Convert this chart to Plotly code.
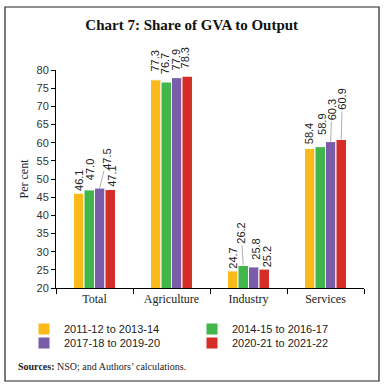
import plotly.graph_objects as go

categories = ["Total", "Agriculture", "Industry", "Services"]
series_names = ["2011-12 to 2013-14", "2014-15 to 2016-17", "2017-18 to 2019-20", "2020-21 to 2021-22"]
s1 = [46.1, 77.3, 24.7, 58.4]
s2 = [47.0, 76.7, 26.2, 58.9]
s3 = [47.5, 77.9, 25.8, 60.3]
s4 = [47.1, 78.3, 25.2, 60.9]
series_values = [s1, s2, s3, s4]
y_ticks = list(range(20, 85, 5))

colors = ["#FBB91A", "#41B64B", "#7A5DA8", "#D42E27"]
# label offsets in pixels (dx, dy, leader line) -- style only
label_style = [
    [(0, -13, False), (-1, -19, False), (0, -13, False), (0, -15, False)],
    [(1, -20, False), (-1, -18, False), (-2, -32, True), (1, -22, False)],
    [(7, -29, True), (-1, -18, False), (2, -18, False), (1, -32, True)],
    [(1, -13, False), (-2, -18, False), (3, -12, False), (1, -40, True)],
]

W, H = 385, 389
L, R, T, B = 56, 21, 70, 101
pw, ph = W - L - R, H - T - B
bargap = 0.455

def px_x(p):
    return (p - L) / pw

def px_y(p):
    return (H - B - p) / ph

fig = go.Figure()
for j, (name, vals) in enumerate(zip(series_names, series_values)):
    fig.add_trace(go.Bar(
        x=categories, y=vals, name=name,
        marker=dict(color=colors[j], line=dict(color="white", width=1)),
        legend="legend" if j < 2 else "legend2",
    ))

w = (1 - bargap) / 4
annotations = []
for j, vals in enumerate(series_values):
    for i, v in enumerate(vals):
        dx, dy, line = label_style[j][i]
        xpos = i + (j - 1.5) * w
        common = dict(x=xpos, y=v, xref="x", yref="y", text=f"{v:.1f}", textangle=-90,
                      font=dict(family="Liberation Sans", size=11, color="#222"))
        if line:
            annotations.append(dict(**common, showarrow=True, ax=dx, ay=dy, arrowhead=0,
                                    arrowwidth=0.8, arrowcolor="#999", standoff=0))
        else:
            annotations.append(dict(**common, showarrow=False, xshift=dx, yshift=-dy,
                                    xanchor="center", yanchor="middle"))

annotations.append(dict(
    x=px_x(16), y=px_y(366), xref="paper", yref="paper", xanchor="left", yanchor="middle",
    text="<b>Sources:</b> NSO; and Authors’ calculations.", showarrow=False,
    font=dict(family="Liberation Serif", size=10, color="#222"),
))

legend_common = dict(orientation="h", xanchor="left", yanchor="middle",
                     entrywidth=123, entrywidthmode="pixels",
                     font=dict(family="Liberation Sans", size=11, color="#222"),
                     bgcolor="rgba(0,0,0,0)", itemclick=False, itemdoubleclick=False)

fig.update_layout(
    width=W, height=H,
    margin=dict(l=L, r=R, t=T, b=B, autoexpand=False),
    paper_bgcolor="white", plot_bgcolor="white",
    barmode="group", bargap=bargap, bargroupgap=0,
    title=dict(text="<b>Chart 7: Share of GVA to Output</b>", x=0.498, xref="container", xanchor="center",
               y=1 - 25 / H, yref="container", yanchor="middle",
               font=dict(family="Liberation Serif", size=15, color="#111")),
    xaxis=dict(showline=True, linecolor="black", linewidth=1, ticks="outside", tickson="boundaries",
               ticklen=5, tickcolor="black", showgrid=False,
               tickfont=dict(family="Liberation Serif", size=12, color="#222")),
    yaxis=dict(range=[20, 80], tickvals=y_ticks, showline=True, linecolor="black", linewidth=1,
               ticks="outside", ticklen=4, tickcolor="black", showgrid=False, zeroline=False,
               tickfont=dict(family="Liberation Sans", size=11, color="#333"),
               title=dict(text="Per cent", standoff=5,
                          font=dict(family="Liberation Serif", size=12, color="#222"))),
    legend=dict(**legend_common, x=px_x(24), y=px_y(329)),
    legend2=dict(**legend_common, x=px_x(24), y=px_y(343)),
    annotations=annotations,
    shapes=[dict(type="rect", xref="paper", yref="paper", x0=px_x(5), x1=px_x(379), y0=px_y(381), y1=px_y(7),
                 line=dict(color="#222", width=1.2), fillcolor="rgba(0,0,0,0)", layer="below")],
)

fig.write_html("out.html", config={"displayModeBar": False},
               post_script="document.body.style.margin='0';document.body.style.overflow='hidden';")
